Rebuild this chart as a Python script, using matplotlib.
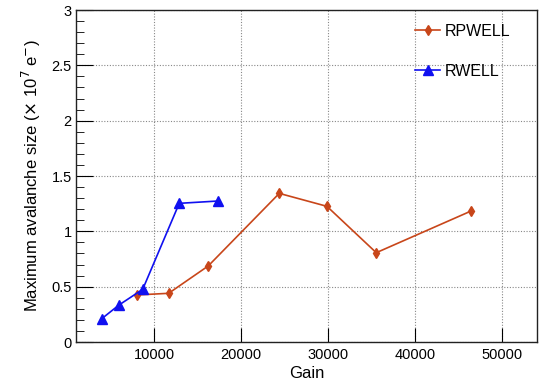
import matplotlib.pyplot as plt
from matplotlib.ticker import MultipleLocator, NullLocator

plt.rcParams['font.family'] = ['Liberation Sans', 'DejaVu Sans']

# Maximum avalanche size vs gain for both detector types
rpwell_gain = [7980, 11650, 16200, 24370, 29850, 35520, 46400]
rpwell_size = [0.425, 0.44, 0.687, 1.343, 1.226, 0.807, 1.183]

rwell_gain = [3950, 5940, 8670, 12870, 17320]
rwell_size = [0.21, 0.334, 0.476, 1.253, 1.274]

fig = plt.figure(figsize=(5.42, 3.82), dpi=100)
ax = fig.add_axes([0.1402, 0.1047, 0.8506, 0.8691])

orange = '#c8461a'
blue = '#1010f0'

ax.plot(rpwell_gain, rpwell_size, color=orange, marker='d', markersize=5,
        linewidth=1.2, label='RPWELL')
ax.plot(rwell_gain, rwell_size, color=blue, marker='^', markersize=6.5,
        linewidth=1.2, label='RWELL')

ax.set_xlim(1000, 54000)
ax.set_ylim(0, 3)

ax.xaxis.set_major_locator(MultipleLocator(10000))
ax.xaxis.set_minor_locator(NullLocator())
ax.yaxis.set_major_locator(MultipleLocator(0.5))
ax.yaxis.set_minor_locator(MultipleLocator(0.1))
ax.yaxis.set_major_formatter(plt.FuncFormatter(lambda v, p: f'{v:g}'))

ax.tick_params(axis='both', which='both', direction='in', labelsize=10.5,
               top=False, right=False)
ax.tick_params(axis='y', which='major', length=12, pad=3)
ax.tick_params(axis='y', which='minor', length=6)
ax.tick_params(axis='x', which='major', length=10, pad=4)

ax.grid(True, which='major', color='#888888', linestyle=(0, (1, 1.5)),
        linewidth=0.8)

for sp in ax.spines.values():
    sp.set_linewidth(1.0)
    sp.set_color('#222222')

ax.set_xlabel('Gain', fontsize=12, labelpad=3)
ax.set_ylabel(r'Maximum avalanche size ($\times$ 10$^{7}$ e$^{-}$)',
              fontsize=12, labelpad=6)

ax.legend(loc='upper left', bbox_to_anchor=(0.735, 0.958), frameon=False,
          fontsize=11.5, labelspacing=1.55, handlelength=1.6,
          handletextpad=0.25, borderpad=0, borderaxespad=0)

fig.savefig('out.png', dpi=100)
